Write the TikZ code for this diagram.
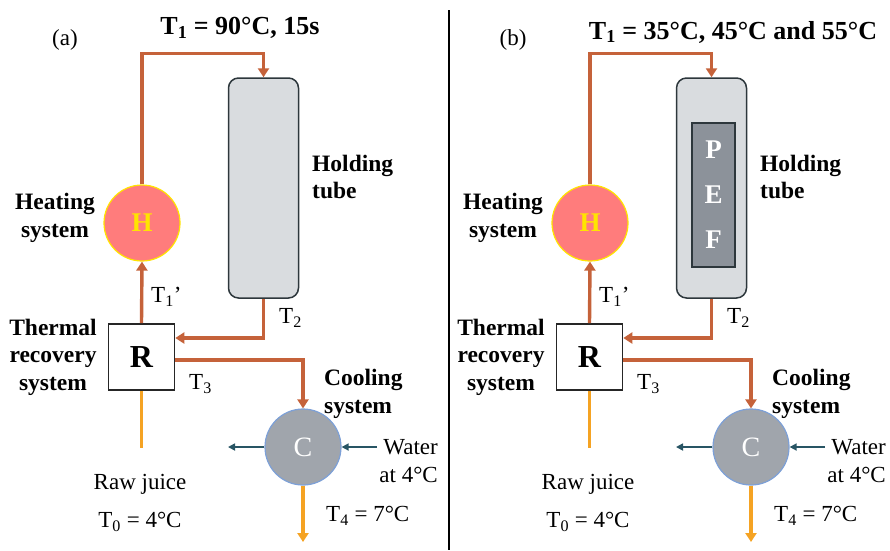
\documentclass[tikz,border=0pt]{standalone}
\usepackage{fontspec}
\setmainfont{Liberation Serif}
\usetikzlibrary{arrows.meta,calc}
\definecolor{Pipe}{RGB}{197,98,58}
\definecolor{Juice}{RGB}{245,163,35}
\definecolor{HeatFill}{RGB}{255,124,124}
\definecolor{HeatLine}{RGB}{255,228,0}
\definecolor{TubeFill}{RGB}{217,220,223}
\definecolor{TubeLine}{RGB}{45,55,60}
\definecolor{PefFill}{RGB}{140,146,154}
\definecolor{CoolFill}{RGB}{160,165,172}
\definecolor{CoolLine}{RGB}{125,160,215}
\definecolor{Water}{RGB}{40,85,100}

\tikzset{
  pipe/.style={line width=3.4pt,draw=Pipe,-{Triangle[width=11pt,length=9pt]}},
  juice/.style={line width=3.2pt,draw=Juice},
  water/.style={line width=1.6pt,draw=Water,-{Triangle[width=7pt,length=7pt]}},
  unit/.style={circle,minimum size=76pt,inner sep=0pt,line width=1.2pt},
  tubebox/.style={draw=TubeLine,fill=TubeFill,rounded corners=10pt,line width=1.5pt,minimum width=70pt,minimum height=220pt},
  recbox/.style={draw=black!85,fill=white,line width=1.6pt,minimum size=66pt,inner sep=0pt,font=\bfseries\fontsize{32}{32}\selectfont},
  lbl/.style={inner sep=0pt,font=\fontsize{23}{28}\selectfont},
  tag/.style={inner sep=0pt,font=\bfseries\fontsize{23.5}{27.5}\selectfont},
  ttl/.style={inner sep=0pt,font=\bfseries\fontsize{26}{26}\selectfont}
}

\begin{document}
\begin{tikzpicture}[x=1pt,y=-1pt]
  \useasboundingbox (0,0) rectangle (890,550);
  % one flow sheet per panel
  \foreach \p/\dx in {a/0,b/448}{
    \begin{scope}[xshift=\dx pt]
      \node[lbl] (lab\p) at (65,40) {(\p)};
      \node[unit,fill=HeatFill,draw=HeatLine,text=HeatLine,font=\bfseries\fontsize{27}{27}\selectfont] (H\p) at (142,223) {H};
      \node[tubebox] (tube\p) at (263.5,188) {};
      \node[recbox] (R\p) at (141.5,357) {R};
      \node[unit,fill=CoolFill,draw=CoolLine,text=white,font=\fontsize{28}{28}\selectfont] (C\p) at (303,447) {C};
      \coordinate (in\p) at (141.5,448);
      \coordinate (out\p) at (303,542);
      \coordinate (win\p) at (377,447);
      \coordinate (wout\p) at (228,447);
      \draw[pipe] (H\p.north) |- ([yshift=24pt]tube\p.north) -- (tube\p.north);
      \draw[pipe] (R\p.north) -- (H\p.south);
      \draw[pipe] (tube\p.south) |- ([yshift=19pt]R\p.east);
      \draw[pipe] ([yshift=-3pt]R\p.east) -| (C\p.north);
      \draw[juice] (R\p.south) -- (in\p);
      \draw[juice,-{Triangle[width=11pt,length=9pt]}] (C\p.south) -- (out\p);
      \draw[water] (win\p) -- (C\p.east);
      \draw[water] (C\p.west) -- (wout\p);
      \node[lbl,anchor=west] (tone\p) at (151,297) {T\textsubscript{1}’};
      \node[lbl,anchor=west] (ttwo\p) at (279,318) {T\textsubscript{2}};
      \node[lbl,anchor=west] (tthree\p) at (189,384) {T\textsubscript{3}};
      \node[lbl] (raw\p) at (140,484) {Raw juice};
      \node[lbl] (tzero\p) at (140,522) {T\textsubscript{0} = 4°C};
      \node[lbl,anchor=west] (tfour\p) at (326,516) {T\textsubscript{4} = 7°C};
      \node[lbl,align=right,anchor=east] (wat\p) at (438,461) {Water\\at 4°C};
      \node[tag,align=left,anchor=west] (hold\p) at (312,177) {Holding\\tube};
      \node[tag,align=center] (heat\p) at (55,218) {Heating\\system};
      \node[tag,align=center] (rec\p) at (53,357) {Thermal\\recovery\\system};
      \node[tag,align=left,anchor=west] (cool\p) at (324,394) {Cooling\\system};
    \end{scope}
  }
  \node[ttl] (ttla) at (240,28) {T\textsubscript{1} = 90°C, 15s};
  \node[ttl] (ttlb) at (733,32) {T\textsubscript{1} = 35°C, 45°C and 55°C};
  \node[draw=TubeLine,fill=PefFill,line width=1.4pt,minimum width=43pt,minimum height=144pt,inner sep=0pt,
        text=white,align=center,font=\bfseries\fontsize{27}{45}\selectfont] (pef) at (713.5,195) {P\\E\\F};
  \draw[line width=1.5pt] (449,10) -- (449,550);
\end{tikzpicture}
\end{document}
